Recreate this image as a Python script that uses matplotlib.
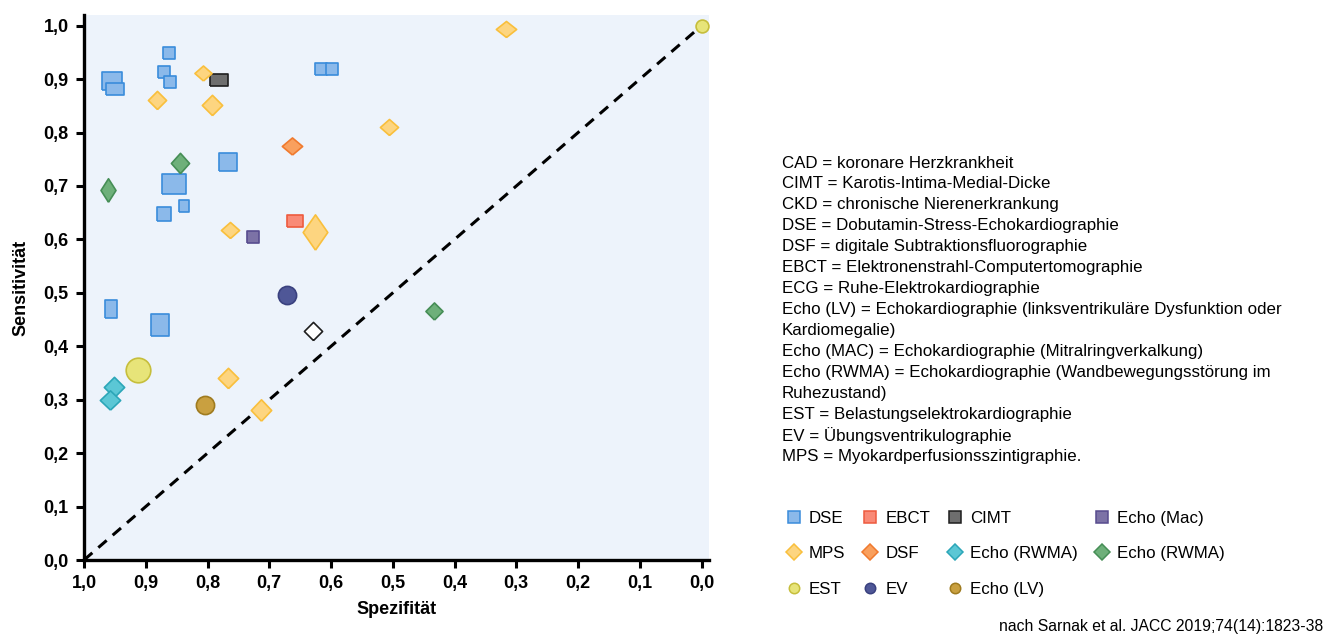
import numpy as np
import matplotlib
matplotlib.use("Agg")
import matplotlib.pyplot as plt
from matplotlib.lines import Line2D

plt.rcParams['font.family'] = ['Liberation Sans', 'DejaVu Sans']

# ---- data: (specificity, sensitivity) per test ----
dse_spec = [0.862, 0.871, 0.861, 0.955, 0.950, 0.617, 0.599, 0.767, 0.854, 0.838, 0.871, 0.956, 0.877]
dse_sens = [0.949, 0.914, 0.895, 0.897, 0.882, 0.919, 0.919, 0.745, 0.704, 0.663, 0.648, 0.470, 0.440]
ebct_spec = [0.659]
ebct_sens = [0.635]
cimt_spec = [0.782]
cimt_sens = [0.899]
mac_spec = [0.727]
mac_sens = [0.605]
mps_spec = [0.807, 0.882, 0.793, 0.506, 0.764, 0.626, 0.767, 0.714, 0.316]
mps_sens = [0.912, 0.860, 0.852, 0.811, 0.618, 0.614, 0.341, 0.281, 0.993]
dsf_spec = [0.663]
dsf_sens = [0.774]
rwma1_spec = [0.951, 0.958]
rwma1_sens = [0.324, 0.300]
rwma2_spec = [0.845, 0.961, 0.434]
rwma2_sens = [0.743, 0.693, 0.466]
est_spec = [0.913, 0.0]
est_sens = [0.356, 1.0]
ev_spec = [0.672]
ev_sens = [0.496]
lv_spec = [0.804]
lv_sens = [0.291]
ecg_spec = [0.629]
ecg_sens = [0.429]

# marker sizes in pixels (width, height) - sample-size weighting in the original
dse_px = [(11, 11), (11, 11), (11, 11), (19, 16), (17, 12), (11, 11), (11, 11), (17, 16), (23, 19),
          (9, 12), (14, 14), (11, 17), (17, 20)]
ebct_px = [(15, 12)]
cimt_px = [(16, 12)]
mac_px = [(12, 12)]
mps_px = [(16, 14), (17, 17), (19, 19), (17, 15), (17, 15), (23, 33), (19, 19), (19, 20), (19, 15)]
dsf_px = [(19, 16)]
rwma1_px = [(19, 19), (19, 18)]
rwma2_px = [(17, 19), (14, 22), (16, 16)]
est_px = [(23, 23), (12, 12)]
ev_px = [(17, 17)]
lv_px = [(17, 17)]
ecg_px = [(17, 17)]

legend_labels = ["DSE", "MPS", "EST", "EBCT", "DSF", "EV", "CIMT", "Echo (RWMA)", "Echo (LV)",
                 "Echo (Mac)", "Echo (RWMA)"]

abbrev = [
    "CAD = koronare Herzkrankheit",
    "CIMT = Karotis-Intima-Medial-Dicke",
    "CKD = chronische Nierenerkrankung",
    "DSE = Dobutamin-Stress-Echokardiographie",
    "DSF = digitale Subtraktionsfluorographie",
    "EBCT = Elektronenstrahl-Computertomographie",
    "ECG = Ruhe-Elektrokardiographie",
    "Echo (LV) = Echokardiographie (linksventrikuläre Dysfunktion oder",
    "Kardiomegalie)",
    "Echo (MAC) = Echokardiographie (Mitralringverkalkung)",
    "Echo (RWMA) = Echokardiographie (Wandbewegungsstörung im",
    "Ruhezustand)",
    "EST = Belastungselektrokardiographie",
    "EV = Übungsventrikulographie",
    "MPS = Myokardperfusionsszintigraphie.",
]


def box(w, h):
    return [(-w / 2, -h / 2), (w / 2, -h / 2), (w / 2, h / 2), (-w / 2, h / 2), (-w / 2, -h / 2)]


def rhomb(w, h):
    return [(0, -h / 2), (w / 2, 0), (0, h / 2), (-w / 2, 0), (0, -h / 2)]


W, H = 1328, 635
fig = plt.figure(figsize=(W / 100, H / 100), dpi=100)
ax = fig.add_axes([84 / W, 1 - 560 / H, (709 - 84) / W, (560 - 15) / H])
ax.set_facecolor("#EDF3FB")

# diagonal reference line
ax.plot([1, 0], [0, 1], color="black", lw=2.2, dashes=(3.6, 2.6), zorder=2, solid_capstyle="butt")

# style per group: shape, face, edge
groups = [
    (dse_spec, dse_sens, dse_px, "box", "#8BB9EA", "#3A8CDB"),
    (ebct_spec, ebct_sens, ebct_px, "box", "#F98A77", "#EE5A3E"),
    (cimt_spec, cimt_sens, cimt_px, "box", "#6E6E6E", "#1E1E1E"),
    (mac_spec, mac_sens, mac_px, "box", "#7C72A6", "#574C8E"),
    (mps_spec, mps_sens, mps_px, "rhomb", "#FDD580", "#F9BF3C"),
    (dsf_spec, dsf_sens, dsf_px, "rhomb", "#F9A05E", "#F07A2E"),
    (rwma1_spec, rwma1_sens, rwma1_px, "rhomb", "#5BC7D5", "#2CA6B8"),
    (rwma2_spec, rwma2_sens, rwma2_px, "rhomb", "#6EB07A", "#468E56"),
    (est_spec, est_sens, est_px, "circle", "#E7E479", "#C6BE3C"),
    (ev_spec, ev_sens, ev_px, "circle", "#4F5797", "#3A417F"),
    (lv_spec, lv_sens, lv_px, "circle", "#C9A040", "#9F7B1F"),
    (ecg_spec, ecg_sens, ecg_px, "rhomb", "#FFFFFF", "#1E1E1E"),
]

scale = 0.72 * 1.07  # px -> pt, slight enlargement
for xs, ys, sizes, shape, fc, ec in groups:
    for x, y, (w, h) in zip(xs, ys, sizes):
        if shape == "box":
            m = box(w, h)
        elif shape == "rhomb":
            m = rhomb(w, h)
        else:
            m = "o"
        ax.plot([x], [y], marker=m, ms=max(w, h) * scale, mfc=fc, mec=ec, mew=1.2,
                ls="none", zorder=3, clip_on=False)

ax.set_xlim(1.0, -0.012)
ax.set_ylim(0, 1.02)
ticks = np.arange(0, 1.01, 0.1)
ax.set_xticks(ticks)
ax.set_yticks(ticks)
ax.set_xticklabels([f"{t:.1f}".replace(".", ",") for t in ticks])
ax.set_yticklabels([f"{t:.1f}".replace(".", ",") for t in ticks])
for lab in ax.get_xticklabels() + ax.get_yticklabels():
    lab.set_fontweight("bold")
ax.tick_params(direction="out", length=6, width=2.2, labelsize=13, pad=5, color="black")
for s in ["top", "right"]:
    ax.spines[s].set_visible(False)
for s in ["left", "bottom"]:
    ax.spines[s].set_linewidth(2.4)
ax.set_xlabel("Spezifität", fontsize=13, fontweight="bold", labelpad=6)
ax.set_ylabel("Sensitivität", fontsize=13, fontweight="bold", labelpad=10)

# abbreviations
for i, line in enumerate(abbrev):
    fig.text(782 / W, 1 - (163 + 20.93 * i) / H, line, fontsize=12.2, va="center", ha="left")

# legend (column-major order); 'D' markers are sized by their diagonal here
styles = {
    "DSE": ("s", 8, "#8BB9EA", "#3A8CDB"),
    "MPS": ("D", 8.0, "#FDD580", "#F9BF3C"),
    "EST": ("o", 7.5, "#E7E479", "#C6BE3C"),
    "EBCT": ("s", 8, "#F98A77", "#EE5A3E"),
    "DSF": ("D", 8.0, "#F9A05E", "#F07A2E"),
    "EV": ("o", 7.5, "#4F5797", "#3A417F"),
    "CIMT": ("s", 8, "#6E6E6E", "#1E1E1E"),
    "Echo (RWMA)1": ("D", 8.0, "#5BC7D5", "#2CA6B8"),
    "Echo (LV)": ("o", 7.5, "#C9A040", "#9F7B1F"),
    "Echo (Mac)": ("s", 8, "#7C72A6", "#574C8E"),
    "Echo (RWMA)2": ("D", 8.0, "#6EB07A", "#468E56"),
}
keys = ["DSE", "MPS", "EST", "EBCT", "DSF", "EV", "CIMT", "Echo (RWMA)1", "Echo (LV)",
        "Echo (Mac)", "Echo (RWMA)2"]
handles = []
for k in keys:
    mk, ms, fc, ec = styles[k]
    handles.append(Line2D([], [], marker=mk, ms=ms, mfc=fc, mec=ec, mew=1.1, ls="none"))
fig.legend(handles, legend_labels, ncol=4, loc="upper left", bbox_to_anchor=(786 / W, 1 - 511 / H),
           frameon=False, fontsize=12.2, handlelength=0.9, handletextpad=0.45, columnspacing=1.0,
           labelspacing=1.2, borderpad=0, borderaxespad=0)

fig.text(1323 / W, 1 - 627 / H, "nach Sarnak et al. JACC 2019;74(14):1823-38", fontsize=11.3,
         ha="right", va="center")

fig.savefig("out.png", dpi=100)
